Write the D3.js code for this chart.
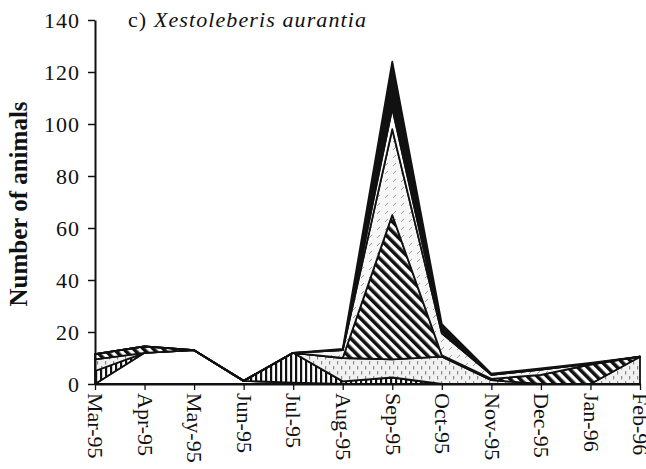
<!DOCTYPE html>
<html lang="en">
    <head>
        <meta charset="utf-8">
        <title>Xestoleberis aurantia</title>
        <script type="text/javascript" src="https://d3js.org/d3.v7.min.js"></script>
        <style type="text/css">
            body { margin: 0; background: #fff; }
            text { font-family: "Liberation Serif", "Times New Roman", serif; fill: #111; }
        </style>
    </head>
    <body>
        <script type="text/javascript">

        const width = 646;
        const height = 469;

        //Data
        const months = ["Mar-95", "Apr-95", "May-95", "Jun-95", "Jul-95", "Aug-95",
                        "Sep-95", "Oct-95", "Nov-95", "Dec-95", "Jan-96", "Feb-96"];
        const plain   = [0, 12, 13, 1.2, 0.5, 0, 0, 0, 0, 0, 0, 0];
        const vstripe = [5, 0, 0, 0, 11.5, 1, 2.5, 0, 0, 0, 0, 0];
        const dotted  = [4.5, 0, 0, 0, 0, 9, 7, 10.5, 1.5, 0, 0, 10.5];
        const bdiag   = [2, 2.5, 0, 0, 0, 0, 55.5, 0.5, 0.5, 3.5, 7.5, 0];
        const ldash   = [0, 0, 0, 0, 0, 3, 33, 8.5, 1.5, 2, 0.3, 0];
        const blank   = [0, 0, 0, 0, 0, 0, 8, 1, 0, 0, 0, 0];
        const solid   = [0, 0, 0, 0, 0, 0.5, 18, 2.5, 0.5, 0.5, 0.3, 0];
        const yTicks  = [0, 20, 40, 60, 80, 100, 120, 140];

        const seriesNames = ["plain", "vstripe", "dotted", "bdiag", "ldash", "blank", "solid"];
        const seriesVals = [plain, vstripe, dotted, bdiag, ldash, blank, solid];
        const fills = ["#fff", "url(#vstripe)", "url(#dotted)", "url(#bdiag)", "url(#ldash)", "#fff", "#111"];

        const table = months.map((m, i) => {
            const row = { month: m };
            seriesNames.forEach((k, j) => row[k] = seriesVals[j][i]);
            return row;
        });

        //Scales
        const xScale = d3.scalePoint()
                        .domain(months)
                        .range([95, 640]);

        const yScale = d3.scaleLinear()
                        .domain([0, 140])
                        .range([384, 20]);

        //SVG
        const svg = d3.select("body")
                    .append("svg")
                    .attr("width", width)
                    .attr("height", height);

        //Patterns
        const defs = svg.append("defs");

        const pv = defs.append("pattern").attr("id", "vstripe")
            .attr("patternUnits", "userSpaceOnUse").attr("width", 5).attr("height", 5);
        pv.append("rect").attr("width", 5).attr("height", 5).attr("fill", "#fff");
        pv.append("rect").attr("width", 2.2).attr("height", 5).attr("fill", "#111");

        const pd = defs.append("pattern").attr("id", "dotted")
            .attr("patternUnits", "userSpaceOnUse").attr("width", 8).attr("height", 10);
        pd.append("rect").attr("width", 8).attr("height", 10).attr("fill", "#f1f1f1");
        pd.append("rect").attr("x", 1).attr("y", 1).attr("width", 1.2).attr("height", 3.5).attr("fill", "#8a8a8a");
        pd.append("rect").attr("x", 5).attr("y", 6).attr("width", 1.2).attr("height", 3.5).attr("fill", "#8a8a8a");

        const pb = defs.append("pattern").attr("id", "bdiag")
            .attr("patternUnits", "userSpaceOnUse").attr("width", 7).attr("height", 7)
            .attr("patternTransform", "rotate(-45)");
        pb.append("rect").attr("width", 7).attr("height", 7).attr("fill", "#fff");
        pb.append("rect").attr("width", 3.6).attr("height", 7).attr("fill", "#111");

        const pl = defs.append("pattern").attr("id", "ldash")
            .attr("patternUnits", "userSpaceOnUse").attr("width", 8).attr("height", 8);
        pl.append("rect").attr("width", 8).attr("height", 8).attr("fill", "#f6f6f6");
        pl.append("line").attr("x1", 1).attr("y1", 6).attr("x2", 4).attr("y2", 3)
            .attr("stroke", "#9a9a9a").attr("stroke-width", 1);

        //Areas
        const stack = d3.stack().keys(seriesNames);
        const layers = stack(table);

        const area = d3.area()
            .x(d => xScale(d.data.month))
            .y0(d => yScale(d[0]))
            .y1(d => yScale(d[1]));

        svg.append("g")
            .selectAll("path")
            .data(layers)
            .enter()
            .append("path")
            .attr("d", area)
            .attr("fill", (d, i) => fills[i])
            .attr("stroke", "#111")
            .attr("stroke-width", 1.8)
            .attr("stroke-linejoin", "round");

        //Axes
        const bottomAxis = d3.axisBottom(xScale)
                            .tickSize(6)
                            .tickSizeOuter(0)
                            .tickPadding(4);

        const leftAxis = d3.axisLeft(yScale)
                            .tickValues(yTicks)
                            .tickSize(7)
                            .tickSizeOuter(0)
                            .tickPadding(8);

        const gx = svg.append("g")
            .attr("transform", "translate(0,384)")
            .call(bottomAxis);
        gx.select(".domain").attr("stroke", "#111").attr("stroke-width", 2);
        gx.selectAll(".tick line").attr("stroke", "#111").attr("stroke-width", 1.3);
        gx.selectAll(".tick text")
            .attr("font-size", 22)
            .attr("text-anchor", "start")
            .attr("transform", "rotate(90)")
            .attr("x", 9)
            .attr("y", 0)
            .attr("dy", "0.33em");

        const gy = svg.append("g")
            .attr("transform", "translate(95,0)")
            .call(leftAxis);
        gy.select(".domain").attr("stroke", "#111").attr("stroke-width", 2);
        gy.selectAll(".tick line").attr("stroke", "#111").attr("stroke-width", 1.5);
        gy.selectAll(".tick text").attr("font-size", 22).attr("letter-spacing", 1);

        //Labels
        svg.append("text")
            .attr("transform", "translate(27,204) rotate(-90)")
            .attr("text-anchor", "middle")
            .attr("font-size", 25)
            .attr("font-weight", "bold")
            .text("Number of animals");

        const title = svg.append("text")
            .attr("x", 128)
            .attr("y", 27)
            .attr("font-size", 22)
            .attr("letter-spacing", 1.1);
        title.append("tspan").text("c) ");
        title.append("tspan").attr("font-style", "italic").text("Xestoleberis aurantia");

        </script>
    </body>
</html>
